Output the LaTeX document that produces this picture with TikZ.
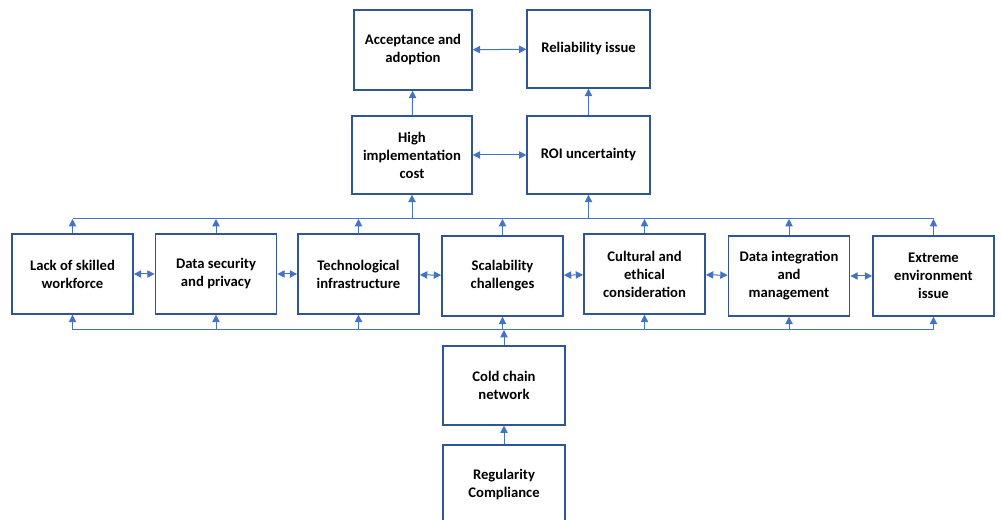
\documentclass[tikz,border=0pt]{standalone}
\usepackage{fontspec}
\setmainfont{Carlito}
\usetikzlibrary{arrows.meta}
\definecolor{boxblue}{HTML}{2F5597}
\definecolor{lineblue}{HTML}{4472C4}

\begin{document}
\begin{tikzpicture}[
		x=0.75pt, y=-0.75pt,
		box/.style={rectangle, draw=boxblue, line width=1.1pt, minimum width=91pt, minimum height=60pt,
			align=center, font=\fontsize{11}{13.5}\selectfont\bfseries, inner sep=2pt},
		link/.style={draw=lineblue, line width=0.75pt, -{Triangle[width=5.5pt,length=5.5pt]}},
		both/.style={link, {Triangle[width=5.5pt,length=5.5pt]}-{Triangle[width=5.5pt,length=5.5pt]}},
		bus/.style={draw=lineblue, line width=0.75pt}
	]
  \useasboundingbox (0,0) rectangle (1001,520);
  \clip (0,0) rectangle (1001,520);
  \node (accept) [box, minimum width=88.5pt] at (413, 50) {Acceptance and\\adoption};
  \node (reliab) [box, minimum width=92pt, minimum height=58.5pt] at (588.5, 49) {Reliability issue};
  \node (cost) [box, minimum width=90pt, minimum height=58.5pt] at (412, 155) {High\\implementation\\cost};
  \node (roi) [box, minimum width=92pt, minimum height=58.5pt] at (588.5, 155) {ROI uncertainty};
  \node (lack) [box] at (72.5, 274) {Lack of skilled\\workforce};
  \node (secur) [box] at (216, 274) {Data security\\and privacy};
  \node (techn) [box] at (358.5, 274) {Technological\\infrastructure};
  \node (scal) [box] at (502.5, 276) {Scalability\\challenges};
  \node (cultur) [box] at (644.5, 274) {Cultural and\\ethical\\consideration};
  \node (integ) [box] at (789, 276) {Data integration\\and\\management};
  \node (extreme) [box] at (933.5, 276) {Extreme\\environment\\issue};
  \node (cold) [box, minimum width=91.5pt, minimum height=59pt] at (504, 385.5) {Cold chain\\network};
  \node (regul) [box, minimum width=91.5pt] at (504, 485) {Regularity\\Compliance};
  \coordinate (busT) at (0, 219);
  \coordinate (busB) at (0, 330);
  \draw [bus] (lack.north |- busT) -- (extreme.north |- busT);
  \draw [bus] (lack.south |- busB) -- (extreme.south |- busB);
  \foreach \n in {lack, secur, techn, scal, cultur, integ, extreme} {
    \draw [link] (\n.north) -- (\n.north |- busT);
    \draw [link] (\n.south |- busB) -- (\n.south);
  }
  \draw [link] (cost.south |- busT) -- (cost.south);
  \draw [link] (roi.south |- busT) -- (roi.south);
  \draw [link] (cost) -- (accept);
  \draw [link] (roi) -- (reliab);
  \draw [both] (accept) -- (reliab);
  \draw [both] (cost) -- (roi);
  \draw [both] (lack) -- (secur);
  \draw [both] (secur) -- (techn);
  \draw [both] (techn) -- (scal);
  \draw [both] (scal) -- (cultur);
  \draw [both] (cultur) -- (integ);
  \draw [both] (integ) -- (extreme);
  \draw [link] (cold) -- (cold.north |- busB);
  \draw [link] (regul) -- (cold);
\end{tikzpicture}
\end{document}
